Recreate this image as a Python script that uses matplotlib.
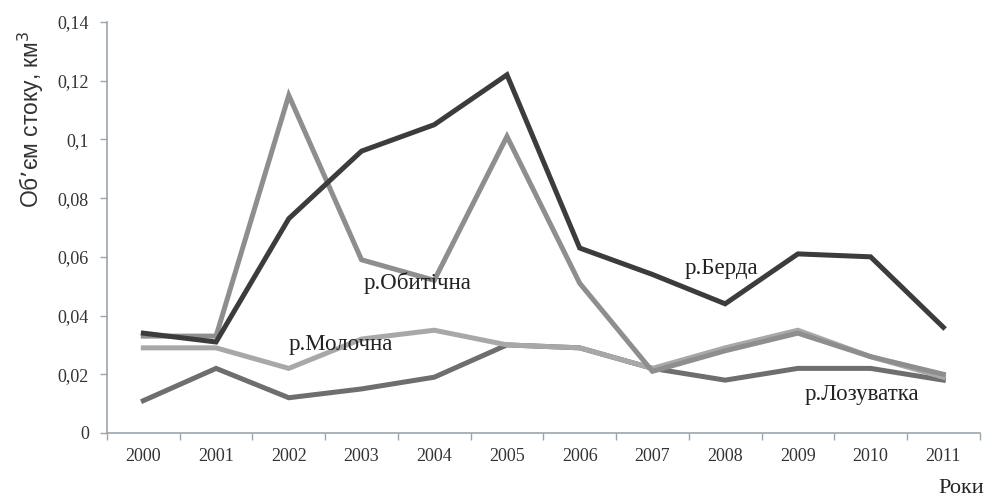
import numpy as np
import matplotlib.pyplot as plt
from matplotlib.ticker import FuncFormatter, FixedLocator

years = ['2000', '2001', '2002', '2003', '2004', '2005',
         '2006', '2007', '2008', '2009', '2010', '2011']
berda = [0.034, 0.031, 0.073, 0.096, 0.105, 0.122, 0.063, 0.054, 0.044, 0.061, 0.060, 0.036]
obytichna = [0.033, 0.033, 0.115, 0.059, 0.052, 0.101, 0.051, 0.021, 0.028, 0.034, 0.026, 0.020]
molochna = [0.029, 0.029, 0.022, 0.032, 0.035, 0.030, 0.029, 0.022, 0.029, 0.035, 0.026, 0.019]
lozuvatka = [0.011, 0.022, 0.012, 0.015, 0.019, 0.030, 0.029, 0.022, 0.018, 0.022, 0.022, 0.018]

plt.rcParams['font.family'] = ['Liberation Serif', 'DejaVu Serif']

fig = plt.figure(figsize=(9.85, 4.99), dpi=100)
ax = fig.add_axes([0.1086, 0.1323, 0.886, 0.8237])

x = np.arange(len(years))
ax.plot(x, lozuvatka, color='#6e6e6e', lw=3.6, solid_joinstyle='miter')
ax.plot(x, molochna, color='#a8a8a8', lw=3.6, solid_joinstyle='miter')
ax.plot(x, obytichna, color='#8e8e8e', lw=3.6, solid_joinstyle='miter')
ax.plot(x, berda, color='#3c3c3c', lw=3.6, solid_joinstyle='miter')

ax.set_xlim(-0.5, len(years) - 0.5)
ax.set_ylim(0, 0.14)
ax.set_yticks(np.arange(0, 0.141, 0.02))
ax.yaxis.set_major_formatter(FuncFormatter(
    lambda v, p: '0' if abs(v) < 1e-9 else ('%g' % round(v, 2)).replace('.', ',')))
ax.set_xticks(x)
ax.set_xticklabels(years)
ax.xaxis.set_minor_locator(FixedLocator(np.arange(-0.5, len(years), 1.0)))
ax.tick_params(axis='x', which='major', length=0, pad=11, labelsize=13, colors='#333333')
ax.tick_params(axis='x', which='minor', length=5, color='#9aa6ad', width=1)
ax.tick_params(axis='y', length=5, color='#9aa6ad', width=1, labelsize=13,
               labelcolor='#333333', pad=8)

for s in ['top', 'right']:
    ax.spines[s].set_visible(False)
for s in ['left', 'bottom']:
    ax.spines[s].set_color('#9aa6ad')
    ax.spines[s].set_linewidth(1.2)

ax.text(3.77, 0.051, 'р.Обитічна', fontsize=16.5, ha='center', va='center', color='#222222')
ax.text(2.71, 0.030, 'р.Молочна', fontsize=16.5, ha='center', va='center', color='#222222')
ax.text(7.95, 0.056, 'р.Берда', fontsize=16.5, ha='center', va='center', color='#222222')
ax.text(9.88, 0.013, 'р.Лозуватка', fontsize=16.5, ha='center', va='center', color='#222222')

fig.text(0.999, 0.022, 'Роки', fontsize=16, ha='right', va='center', color='#222222')
fig.text(0.031, 0.76, 'Об’єм стоку, км$^3$', fontsize=16.5, rotation=90,
         ha='center', va='center', color='#333333', family=['Liberation Sans', 'DejaVu Sans'])

fig.savefig('out.png', dpi=100)
